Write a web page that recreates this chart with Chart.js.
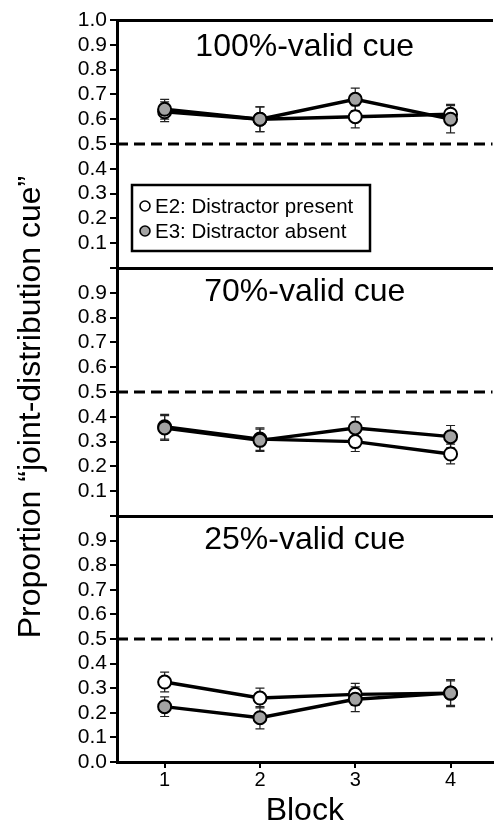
<!DOCTYPE html>
<html>
<head>
<meta charset="utf-8">
<script src="https://cdn.jsdelivr.net/npm/chart.js@4.4.0/dist/chart.umd.min.js"></script>
<style>
  html, body { margin: 0; padding: 0; background: #fff; }
  #wrap { position: relative; width: 501px; height: 825px; }
  #wrap canvas { position: absolute; left: 0; top: 0; }
</style>
</head>
<body>
<div id="wrap">
  <canvas id="c100" width="501" height="825"></canvas>
  <canvas id="c70" width="501" height="825"></canvas>
  <canvas id="c25" width="501" height="825"></canvas>
</div>
<script>
// data
const blocks = [1, 2, 3, 4];
const yTicks = [0, 0.1, 0.2, 0.3, 0.4, 0.5, 0.6, 0.7, 0.8, 0.9, 1.0];
const chanceLevel = 0.5;
const seriesNames = ['E2: Distractor present', 'E3: Distractor absent'];
const panelTitles = ['100%-valid cue', '70%-valid cue', '25%-valid cue'];
const yAxisTitle = 'Proportion \u201Cjoint-distribution cue\u201D';

const valid100_E2 = [0.63, 0.60, 0.61, 0.62];
const valid100_E2_err = [0.04, 0.05, 0.045, 0.04];
const valid100_E3 = [0.64, 0.60, 0.68, 0.60];
const valid100_E3_err = [0.04, 0.05, 0.045, 0.055];

const valid70_E2 = [0.36, 0.31, 0.30, 0.25];
const valid70_E2_err = [0.05, 0.045, 0.04, 0.04];
const valid70_E3 = [0.355, 0.305, 0.355, 0.32];
const valid70_E3_err = [0.05, 0.045, 0.045, 0.045];

const valid25_E2 = [0.325, 0.26, 0.275, 0.28];
const valid25_E2_err = [0.04, 0.04, 0.045, 0.05];
const valid25_E3 = [0.225, 0.18, 0.255, 0.28];
const valid25_E3_err = [0.04, 0.045, 0.05, 0.055];

const fillE2 = '#ffffff';
const fillE3 = '#a3a3a3';
const FONT = "'Liberation Sans', Arial, sans-serif";

Chart.defaults.font.family = FONT;
Chart.defaults.color = '#000';

// error bars, drawn under the markers
const errorBars = {
    id: 'errorBars',
    beforeDatasetsDraw(chart) {
        const ctx = chart.ctx;
        const xs = chart.scales.x, ys = chart.scales.y;
        ctx.save();
        ctx.strokeStyle = '#222';
        ctx.lineWidth = 1.2;
        chart.data.datasets.forEach(ds => {
            if (!ds.errors) return;
            ds.data.forEach((p, i) => {
                const x = xs.getPixelForValue(p.x);
                const yHi = ys.getPixelForValue(p.y + ds.errors[i]);
                const yLo = ys.getPixelForValue(p.y - ds.errors[i]);
                ctx.beginPath();
                ctx.moveTo(x, yHi); ctx.lineTo(x, yLo);
                ctx.moveTo(x - 4.5, yHi); ctx.lineTo(x + 4.5, yHi);
                ctx.moveTo(x - 4.5, yLo); ctx.lineTo(x + 4.5, yLo);
                ctx.stroke();
            });
        });
        ctx.restore();
    }
};

// dashed chance line + panel title (+ shared y title on the middle panel)
const panelDecor = {
    id: 'panelDecor',
    beforeDatasetsDraw(chart, args, opts) {
        const ctx = chart.ctx;
        const a = chart.chartArea;
        const y = chart.scales.y.getPixelForValue(chanceLevel);
        ctx.save();
        ctx.strokeStyle = '#000';
        ctx.lineWidth = 3;
        ctx.setLineDash([11, 6]);
        ctx.beginPath();
        ctx.moveTo(a.left, y);
        ctx.lineTo(a.right, y);
        ctx.stroke();
        ctx.setLineDash([]);
        ctx.fillStyle = '#000';
        ctx.font = '32px ' + FONT;
        ctx.textAlign = 'center';
        ctx.textBaseline = 'middle';
        ctx.fillText(opts.text, (a.left + a.right) / 2, a.top + opts.titleOffset);
        if (opts.yTitle) {
            ctx.translate(31.5, (a.top + a.bottom) / 2 + 15);
            ctx.rotate(-Math.PI / 2);
            ctx.fillText(opts.yTitle, 0, 0);
        }
        ctx.restore();
    }
};

// boxed legend inside the top panel
const boxLegend = {
    id: 'boxLegend',
    afterDraw(chart, args, opts) {
        if (!opts.display) return;
        const ctx = chart.ctx;
        const a = chart.chartArea;
        const bx = a.left + 15, by = a.top + 165, bw = 238, bh = 66;
        ctx.save();
        ctx.lineWidth = 2.5;
        ctx.strokeStyle = '#000';
        ctx.strokeRect(bx, by, bw, bh);
        ctx.font = '20.5px ' + FONT;
        ctx.textBaseline = 'middle';
        ctx.textAlign = 'left';
        chart.data.datasets.forEach((ds, i) => {
            const cy = by + 21 + i * 25;
            ctx.beginPath();
            ctx.arc(bx + 13, cy, 5, 0, Math.PI * 2);
            ctx.fillStyle = ds.backgroundColor;
            ctx.fill();
            ctx.lineWidth = 1.6;
            ctx.stroke();
            ctx.fillStyle = '#000';
            ctx.fillText(ds.label, bx + 23, cy + 1);
        });
        ctx.restore();
    }
};

function toPoints(vals) {
    return vals.map((v, i) => ({ x: blocks[i], y: v }));
}

function makeSeries(label, vals, errs, fill, order) {
    return {
        label: label,
        data: toPoints(vals),
        errors: errs,
        borderColor: '#000',
        borderWidth: 3.4,
        backgroundColor: fill,
        pointBackgroundColor: fill,
        pointBorderColor: '#000',
        pointBorderWidth: 2,
        pointRadius: 6.5,
        pointHoverRadius: 6.5,
        tension: 0,
        order: order
    };
}

function renderPanel(id, cfg) {
    const ctx = document.getElementById(id).getContext('2d');
    return new Chart(ctx, {
        type: 'line',
        data: {
            datasets: [
                makeSeries(seriesNames[0], cfg.e2, cfg.e2err, fillE2, 2),
                makeSeries(seriesNames[1], cfg.e3, cfg.e3err, fillE3, 1)
            ]
        },
        options: {
            responsive: false,
            animation: false,
            events: [],
            layout: { padding: { top: cfg.top, bottom: cfg.bottom, left: 0, right: 0 } },
            plugins: {
                legend: { display: false },
                tooltip: { enabled: false },
                panelDecor: { text: cfg.title, titleOffset: cfg.titleOffset, yTitle: cfg.yTitle ? yAxisTitle : null },
                boxLegend: { display: cfg.legend }
            },
            scales: {
                x: {
                    type: 'linear',
                    display: cfg.xAxis,
                    min: 0.5,
                    max: 4.44,
                    afterBuildTicks: s => { s.ticks = blocks.map(v => ({ value: v })); },
                    afterFit: s => { s.height = cfg.xAxis ? 63 : 0; },
                    border: { display: true, color: '#000', width: 3 },
                    grid: { display: true, drawOnChartArea: false, drawTicks: true, tickLength: 6, color: '#000', lineWidth: 2 },
                    ticks: { font: { size: 20 }, padding: 0, color: '#000', autoSkip: false, maxRotation: 0 },
                    title: { display: true, text: 'Block', font: { size: 32 }, padding: { top: 0, bottom: -5 } }
                },
                xt: {
                    type: 'linear',
                    position: 'top',
                    min: 0.5,
                    max: 4.44,
                    afterFit: s => { s.height = 0; },
                    border: { display: true, color: '#000', width: 3 },
                    grid: { display: false },
                    ticks: { display: false }
                },
                y: {
                    min: 0,
                    max: 1,
                    afterBuildTicks: s => { s.ticks = yTicks.map(v => ({ value: v })); },
                    afterFit: s => { s.width = 117; },
                    border: { display: true, color: '#000', width: 3 },
                    grid: { display: true, drawOnChartArea: false, drawTicks: true, tickLength: 7, color: '#000', lineWidth: 2 },
                    ticks: {
                        font: { size: 21 },
                        padding: 3,
                        color: '#000',
                        autoSkip: false,
                        callback: v => {
                            if (v >= 0.999 && !cfg.showTop) return '';
                            if (v <= 0.001 && !cfg.showZero) return '';
                            return v.toFixed(1);
                        }
                    }
                }
            }
        },
        plugins: [errorBars, panelDecor, boxLegend]
    });
}

renderPanel('c100', {
    e2: valid100_E2, e2err: valid100_E2_err, e3: valid100_E3, e3err: valid100_E3_err,
    title: panelTitles[0], titleOffset: 27, top: 20, bottom: 557,
    xAxis: false, showTop: true, showZero: false, yTitle: false, legend: true
});
renderPanel('c70', {
    e2: valid70_E2, e2err: valid70_E2_err, e3: valid70_E3, e3err: valid70_E3_err,
    title: panelTitles[1], titleOffset: 24, top: 268, bottom: 309,
    xAxis: false, showTop: false, showZero: false, yTitle: true, legend: false
});
renderPanel('c25', {
    e2: valid25_E2, e2err: valid25_E2_err, e3: valid25_E3, e3err: valid25_E3_err,
    title: panelTitles[2], titleOffset: 24, top: 516, bottom: 0,
    xAxis: true, showTop: false, showZero: true, yTitle: false, legend: false
});
</script>
</body>
</html>
